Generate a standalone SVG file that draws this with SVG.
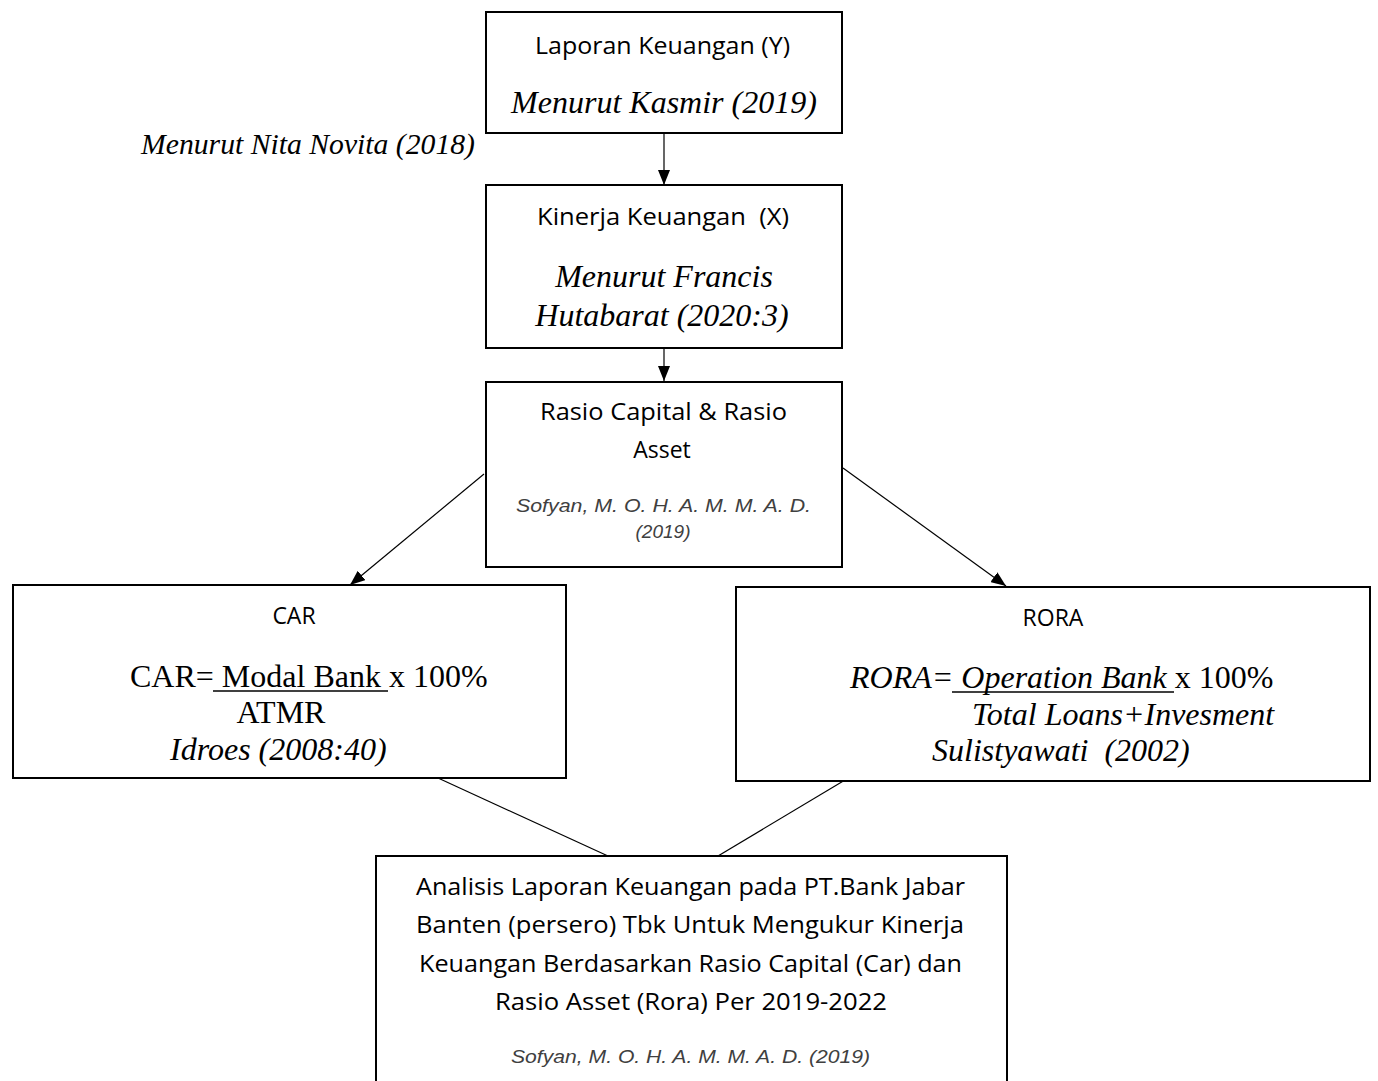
<svg xmlns="http://www.w3.org/2000/svg" width="1378" height="1081" viewBox="0 0 1378 1081">
<style>
.box{fill:#fff;stroke:#000;stroke-width:2}
.con{stroke:#000;stroke-width:1.2;fill:none}
.sans{font-family:"Open Sans","Liberation Sans",sans-serif;font-size:23px;fill:#000}
.serif{font-family:"Liberation Serif","Times New Roman",serif;font-size:32px;fill:#000}
.it{font-style:italic}
.cite{font-family:"Liberation Sans",Arial,sans-serif;font-style:italic;font-size:19px;fill:#404040}
</style>
<defs>
<marker id="arr" markerWidth="15" markerHeight="12" refX="15" refY="6" orient="auto" markerUnits="userSpaceOnUse">
<path d="M0,0 L15,6 L0,12 Z" fill="#000"/>
</marker>
</defs>
<rect width="1378" height="1081" fill="#fff"/>

<g id="connectors">
<line class="con" x1="664" y1="133" x2="664" y2="185" marker-end="url(#arr)"/>
<line class="con" x1="664" y1="332" x2="664" y2="381" marker-end="url(#arr)"/>
<line class="con" x1="484" y1="474" x2="350" y2="585" marker-end="url(#arr)"/>
<line class="con" x1="843" y1="468" x2="1006" y2="586" marker-end="url(#arr)"/>
<line class="con" x1="438" y1="778" x2="608" y2="856"/>
<line class="con" x1="845" y1="780" x2="718" y2="856"/>
</g>

<g id="nita">
<text class="serif it" x="141" y="154" style="font-size:30px" textLength="334" lengthAdjust="spacingAndGlyphs">Menurut Nita Novita (2018)</text>
</g>

<g id="laporan">
<rect class="box" x="486" y="12" width="356" height="121"/>
<text class="sans" x="535" y="54" textLength="255" lengthAdjust="spacingAndGlyphs">Laporan Keuangan (Y)</text>
<text class="serif it" x="664" y="113" text-anchor="middle">Menurut Kasmir (2019)</text>
</g>

<g id="kinerja">
<rect class="box" x="486" y="185" width="356" height="163"/>
<text class="sans" x="537" y="225" textLength="252" lengthAdjust="spacingAndGlyphs" xml:space="preserve">Kinerja Keuangan  (X)</text>
<text class="serif it" x="664" y="287" text-anchor="middle">Menurut Francis</text>
<text class="serif it" x="662" y="326" text-anchor="middle">Hutabarat (2020:3)</text>
</g>

<g id="rasio">
<rect class="box" x="486" y="382" width="356" height="185"/>
<text class="sans" x="540" y="420" textLength="247" lengthAdjust="spacingAndGlyphs">Rasio Capital &amp; Rasio</text>
<text class="sans" x="662" y="458" text-anchor="middle">Asset</text>
<text class="cite" x="516" y="512" textLength="295" lengthAdjust="spacingAndGlyphs">Sofyan, M. O. H. A. M. M. A. D.</text>
<text class="cite" x="663" y="538" text-anchor="middle">(2019)</text>
</g>

<g id="car">
<rect class="box" x="13" y="585" width="553" height="193"/>
<text class="sans" x="294" y="624" text-anchor="middle">CAR</text>
<text class="serif" x="130" y="687">CAR= Modal Bank x 100%</text>
<line x1="213" y1="691" x2="388" y2="691" stroke="#000" stroke-width="1.6"/>
<text class="serif" x="281" y="723" text-anchor="middle">ATMR</text>
<text class="serif it" x="170" y="760">Idroes (2008:40)</text>
</g>

<g id="rora">
<rect class="box" x="736" y="587" width="634" height="194"/>
<text class="sans" x="1053" y="626" text-anchor="middle">RORA</text>
<text class="serif" x="850" y="688"><tspan font-style="italic">RORA= Operation Bank </tspan>x 100%</text>
<line x1="952" y1="692" x2="1174" y2="692" stroke="#000" stroke-width="1.6"/>
<text class="serif it" x="972" y="725">Total Loans+Invesment</text>
<text class="serif it" x="932" y="761" xml:space="preserve">Sulistyawati  (2002)</text>
</g>

<g id="analisis">
<path class="box" d="M376,1081 V856 H1007 V1081"/>
<text class="sans" x="416" y="895" style="font-size:24px" textLength="549" lengthAdjust="spacingAndGlyphs">Analisis Laporan Keuangan pada PT.Bank Jabar</text>
<text class="sans" x="416" y="933" style="font-size:24px" textLength="548" lengthAdjust="spacingAndGlyphs">Banten (persero) Tbk Untuk Mengukur Kinerja</text>
<text class="sans" x="419" y="972" style="font-size:24px" textLength="543" lengthAdjust="spacingAndGlyphs">Keuangan Berdasarkan Rasio Capital (Car) dan</text>
<text class="sans" x="495" y="1010" style="font-size:24px" textLength="392" lengthAdjust="spacingAndGlyphs">Rasio Asset (Rora) Per 2019-2022</text>
<text class="cite" x="511" y="1063" textLength="359" lengthAdjust="spacingAndGlyphs">Sofyan, M. O. H. A. M. M. A. D. (2019)</text>
</g>
</svg>
